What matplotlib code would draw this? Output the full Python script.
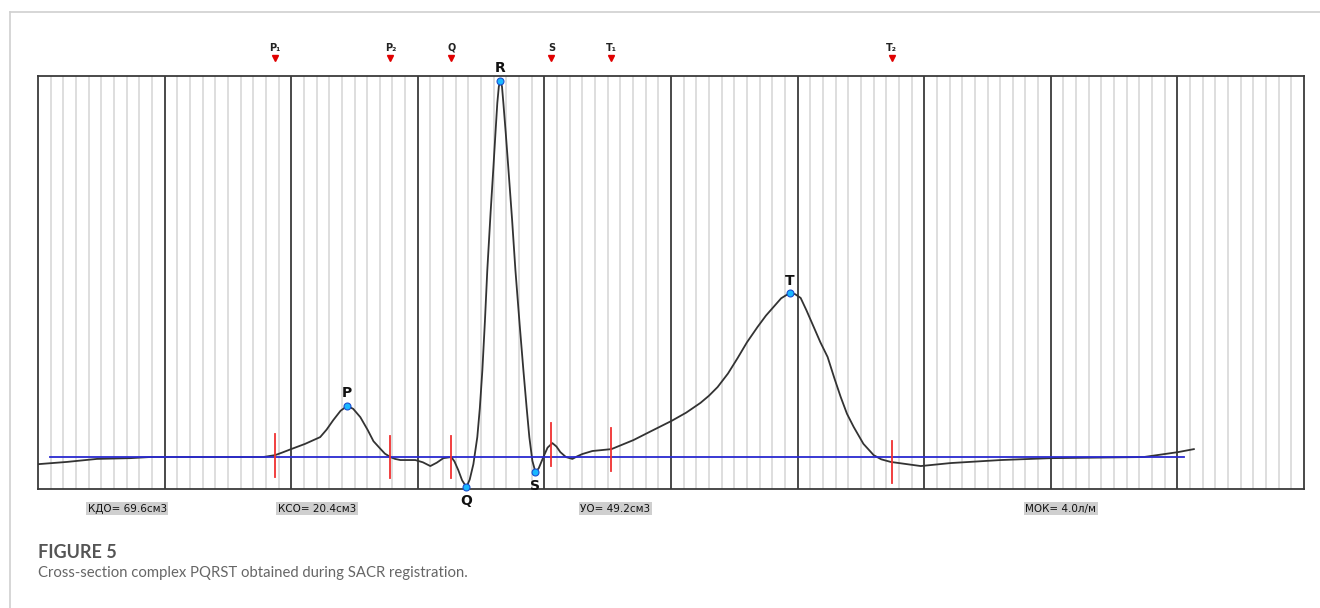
import numpy as np
import matplotlib
matplotlib.use("Agg")
import matplotlib.pyplot as plt
from matplotlib.lines import Line2D
import matplotlib.transforms as mtransforms

# time axis in ms (100 small divisions of 10 ms), amplitude in relative units (R = 100)
t_curve = [0, 22.9, 46.6, 72.7, 88.5, 177.9, 187.3, 193.0, 199.9, 211.0, 222.9,
           228.0, 233.2, 239.0, 244.3, 249.0, 254.6, 260.4, 265.0, 270.4, 274.0,
           278.3, 282.0, 286.2, 298.0, 304.0, 309.9, 315.0, 320.2, 326.5, 329.0,
           332.0, 335.0, 338.4, 341.0, 343.9, 347.0, 349.0, 351.0, 353.0, 354.9,
           357.5, 359.7, 361.5, 362.8, 364.0, 365.2, 366.5, 367.6, 369.5, 371.5,
           374.5, 377.1, 380.5, 383.4, 386.0, 388.1, 390.5, 392.9, 395.5, 399.2,
           402.5, 406.3, 409.5, 412.6, 417.0, 422.1, 426.0, 430.0, 437.9, 452.9,
           470.3, 485.0, 500.4, 512.0, 523.3, 530.0, 536.8, 545.0, 552.6, 560.0,
           568.4, 575.0, 581.0, 587.0, 593.7, 598.0, 602.4, 607.0, 612.7, 618.0,
           623.7, 629.0, 634.0, 639.0, 644.3, 652.0, 660.1, 666.0, 673.5, 697.3,
           721.0, 760.5, 800.0, 873.5, 900.4, 913.0]
a_curve = [-1.9, -1.3, -0.5, -0.3, 0.0, 0.0, 0.5, 1.2, 2.1, 3.5, 5.3,
           7.3, 9.8, 12.3, 13.6, 12.8, 10.6, 7.2, 4.2, 2.2, 0.9,
           0.0, -0.5, -0.8, -0.8, -1.4, -2.4, -1.5, -0.3, 0.0, -1.2,
           -3.5, -6.2, -8.0, -6.0, -1.9, 5.3, 13.0, 23.1, 36.0, 49.7,
           65.0, 76.9, 87.0, 94.1, 98.5, 100.0, 98.5, 94.1, 86.0, 76.9,
           63.0, 49.7, 35.0, 23.1, 13.0, 5.3, -1.0, -4.0, -3.0, 0.0,
           2.5, 3.7, 2.8, 1.3, 0.0, -0.5, 0.2, 0.8, 1.6, 2.1,
           4.5, 7.0, 9.6, 11.8, 14.4, 16.3, 18.6, 22.2, 26.3, 30.5,
           34.6, 37.6, 39.9, 42.2, 43.6, 43.3, 42.3, 39.0, 34.6, 30.5,
           26.6, 21.0, 16.0, 11.5, 8.0, 3.5, 0.5, -0.6, -1.3, -2.4,
           -1.6, -0.8, -0.3, 0.0, 1.3, 2.1]

isoline_t = [9.5, 905.0]

peak_names = ["P", "Q", "R", "S", "T"]
peak_t = [244.3, 338.4, 365.2, 392.9, 593.7]

marker_names = ["P₁", "P₂", "Q", "S", "T₁", "T₂"]
marker_t = [187.3, 278.3, 326.5, 405.5, 452.9, 674.3]

value_labels = ["КДО= 69.6см3", "КСО= 20.4см3", "УО= 49.2см3", "МОК= 4.0л/м"]
value_t = [70.4, 220.5, 456.0, 808.0]

fig = plt.figure(figsize=(13.2, 6.08), dpi=100)
ax = fig.add_axes([38 / 1320, 119 / 608, 1266 / 1320, 413 / 608])
ax.set_xlim(0, 1000)
ax.set_ylim(-8.5, 101.3)

# grid
for x in np.arange(10, 1000, 10):
    if x % 100 == 0:
        ax.axvline(x, color="#3a3a3a", lw=1.3, zorder=1)
    else:
        ax.axvline(x, color="#d8d8d8", lw=1.2, zorder=0)
for s in ax.spines.values():
    s.set_color("#3a3a3a")
    s.set_linewidth(1.3)
ax.set_xticks([])
ax.set_yticks([])

# signal and isoline
ax.plot(t_curve, a_curve, color="#333333", lw=1.3, zorder=3,
        solid_joinstyle="round")
ax.plot(isoline_t, [0, 0], color="#2a2ad0", lw=1.3, zorder=4)

# red boundary ticks on the curve
for t in marker_t:
    a = np.interp(t, t_curve, a_curve)
    ax.plot([t, t], [a - 5.7, a + 5.7], color="#f03030", lw=1.3, zorder=5)

# top markers
trans = mtransforms.blended_transform_factory(ax.transData, ax.transAxes)
for name, t in zip(marker_names, marker_t):
    ax.plot(t, 1.044, marker="v", color="#e00000", ms=5, transform=trans,
            clip_on=False, zorder=6)
    ax.text(t, 1.068, name, transform=trans, ha="center", va="center",
            fontsize=7, fontweight="bold", color="#222222")

# characteristic points
for name, t in zip(peak_names, peak_t):
    a = np.interp(t, t_curve, a_curve)
    ax.plot(t, a, "o", ms=5, mfc="#19b8ff", mec="#1a4fd0", mew=0.8,
            zorder=7, clip_on=False)
    dy = 9 if name in ("P", "R", "T") else -10
    ax.annotate(name, (t, a), xytext=(0, dy), textcoords="offset points",
                ha="center", va="center", fontsize=10, fontweight="bold",
                color="#111111", annotation_clip=False)

# values under the chart
for lab, t in zip(value_labels, value_t):
    ax.text(t, -0.048, lab, transform=trans, ha="center", va="center",
            fontsize=7.5, family=["Liberation Sans Narrow", "DejaVu Sans"],
            color="#111111",
            bbox=dict(boxstyle="square,pad=0.15", fc="#cfcfcf", ec="none"))

# card border and caption
fig.add_artist(Line2D([9.5 / 1320, 9.5 / 1320], [0, 1 - 12 / 608],
                      color="#d0d0d0", lw=1.2))
fig.add_artist(Line2D([9.5 / 1320, 1], [1 - 12 / 608, 1 - 12 / 608],
                      color="#d0d0d0", lw=1.2))
fig.text(38 / 1320, 1 - 553 / 608, "FIGURE 5", ha="left", va="center",
         fontsize=13, fontweight="bold", family=["Lato", "DejaVu Sans"],
         color="#555555")
fig.text(38 / 1320, 1 - 573 / 608,
         "Cross-section complex PQRST obtained during SACR registration.",
         ha="left", va="center", fontsize=10.7, family=["Lato", "DejaVu Sans"],
         color="#666666")

fig.savefig("out.png", dpi=100)
